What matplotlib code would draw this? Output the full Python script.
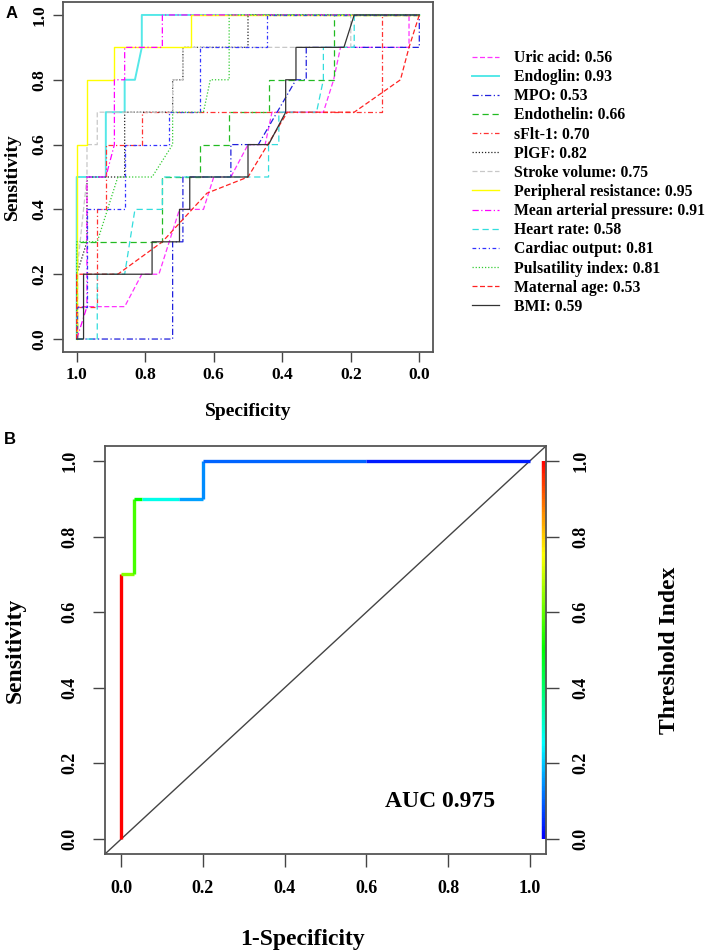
import numpy as np
import matplotlib
matplotlib.use('Agg')
import matplotlib.pyplot as plt
from matplotlib.collections import LineCollection
from matplotlib.colors import ListedColormap, hsv_to_rgb

plt.rcParams['font.family'] = ['Liberation Serif', 'DejaVu Serif']
plt.rcParams['font.weight'] = 'bold'
plt.rcParams['axes.labelweight'] = 'bold'

# --- Panel A: ROC curves (specificity, sensitivity) per marker ---
markers = ['Uric acid', 'Endoglin', 'MPO', 'Endothelin', 'sFlt-1', 'PlGF',
           'Stroke volume', 'Peripheral resistance', 'Mean arterial pressure',
           'Heart rate', 'Cardiac output', 'Pulsatility index', 'Maternal age', 'BMI']
aucs = [0.56, 0.93, 0.53, 0.66, 0.70, 0.82, 0.75, 0.95, 0.91, 0.58, 0.81, 0.81, 0.53, 0.59]

spec_uric = [1, 1, 0.86, 0.81, 0.76, 0.73, 0.70, 0.63, 0.60, 0.55, 0.50, 0.45, 0.43, 0.28, 0.25, 0.23, 0.03, 0.03, 0]
sens_uric = [0, 0.1, 0.1, 0.2, 0.2, 0.3, 0.4, 0.4, 0.5, 0.5, 0.6, 0.6, 0.7, 0.7, 0.8, 0.9, 0.9, 1.0, 1.0]
spec_endoglin = [1, 1, 0.915, 0.915, 0.86, 0.86, 0.83, 0.81, 0.81, 0]
sens_endoglin = [0, 0.5, 0.5, 0.7, 0.7, 0.8, 0.8, 0.9, 1.0, 1.0]
spec_mpo = [1, 0.72, 0.72, 0.69, 0.69, 0.55, 0.55, 0.47, 0.415, 0.36, 0.33, 0.33, 0.0, 0.0]
sens_mpo = [0, 0, 0.3, 0.3, 0.5, 0.5, 0.6, 0.6, 0.7, 0.8, 0.8, 0.9, 0.9, 1.0]
spec_endothelin = [1, 1, 0.75, 0.75, 0.64, 0.64, 0.555, 0.555, 0.44, 0.44, 0.25, 0.25, 0]
sens_endothelin = [0, 0.3, 0.3, 0.5, 0.5, 0.6, 0.6, 0.7, 0.7, 0.8, 0.8, 1.0, 1.0]
spec_sflt = [1, 1, 0.94, 0.94, 0.915, 0.915, 0.81, 0.81, 0.11, 0.11, 0]
sens_sflt = [0, 0.1, 0.1, 0.4, 0.4, 0.6, 0.6, 0.7, 0.7, 1.0, 1.0]
spec_plgf = [1, 1, 0.97, 0.97, 0.86, 0.86, 0.72, 0.72, 0.69, 0.69, 0.5, 0.5, 0]
sens_plgf = [0, 0.2, 0.3, 0.5, 0.5, 0.7, 0.7, 0.8, 0.8, 0.9, 0.9, 1.0, 1.0]
spec_stroke = [1, 1, 0.97, 0.97, 0.94, 0.94, 0.72, 0.72, 0.69, 0.69, 0.2, 0.2, 0]
sens_stroke = [0, 0.2, 0.5, 0.6, 0.6, 0.7, 0.7, 0.8, 0.8, 0.9, 0.9, 1.0, 1.0]
spec_periph = [1, 1, 0.97, 0.97, 0.89, 0.89, 0.667, 0.667, 0]
sens_periph = [0, 0.6, 0.6, 0.8, 0.8, 0.9, 0.9, 1.0, 1.0]
spec_map = [1, 0.97, 0.97, 0.915, 0.89, 0.89, 0.86, 0.86, 0.75, 0.75, 0]
sens_map = [0, 0.1, 0.5, 0.5, 0.6, 0.8, 0.8, 0.9, 0.9, 1.0, 1.0]
spec_hr = [1, 0.94, 0.94, 0.86, 0.83, 0.75, 0.75, 0.44, 0.44, 0.41, 0.41, 0.30, 0.28, 0.28, 0.19, 0.19, 0]
sens_hr = [0, 0, 0.2, 0.2, 0.4, 0.4, 0.5, 0.5, 0.6, 0.6, 0.7, 0.7, 0.8, 0.9, 0.9, 1.0, 1.0]
spec_co = [1, 1, 0.97, 0.97, 0.86, 0.86, 0.73, 0.73, 0.64, 0.64, 0.445, 0.445, 0]
sens_co = [0, 0.1, 0.1, 0.4, 0.4, 0.6, 0.6, 0.7, 0.7, 0.9, 0.9, 1.0, 1.0]
spec_pi = [1, 1, 0.94, 0.91, 0.88, 0.78, 0.72, 0.72, 0.63, 0.61, 0.555, 0.555, 0]
sens_pi = [0, 0.3, 0.3, 0.4, 0.5, 0.5, 0.6, 0.7, 0.7, 0.8, 0.8, 1.0, 1.0]
spec_age = [1, 1, 0.88, 0.75, 0.62, 0.50, 0.385, 0.19, 0.055, 0.03, 0]
sens_age = [0, 0.2, 0.2, 0.3, 0.45, 0.5, 0.7, 0.7, 0.8, 0.9, 1.0]
spec_bmi = [1, 0.98, 0.98, 0.78, 0.78, 0.70, 0.70, 0.67, 0.67, 0.50, 0.50, 0.44, 0.39, 0.39, 0.36, 0.36, 0.22, 0.19, 0]
sens_bmi = [0, 0, 0.2, 0.2, 0.3, 0.3, 0.4, 0.4, 0.5, 0.5, 0.6, 0.6, 0.7, 0.8, 0.8, 0.9, 0.9, 1.0, 1.0]

specs = [spec_uric, spec_endoglin, spec_mpo, spec_endothelin, spec_sflt, spec_plgf, spec_stroke,
         spec_periph, spec_map, spec_hr, spec_co, spec_pi, spec_age, spec_bmi]
senss = [sens_uric, sens_endoglin, sens_mpo, sens_endothelin, sens_sflt, sens_plgf, sens_stroke,
         sens_periph, sens_map, sens_hr, sens_co, sens_pi, sens_age, sens_bmi]

colors = ['#ff33ff', '#55e8e8', '#2020dd', '#22bb22', '#ff3333', '#222222', '#c8c8c8',
          '#ffff00', '#ff00ff', '#33dddd', '#3333ff', '#33cc33', '#ff2222', '#333333']
styles = [(0, (4, 2)), '-', (0, (5, 2, 1, 2)), (0, (5, 3)), (0, (4, 2, 1, 2)), (0, (1, 1.5)),
          (0, (4, 2)), '-', (0, (5, 2, 1, 2)), (0, (5, 3)), (0, (3, 2, 1, 2)), (0, (1, 1.5)),
          (0, (4, 2)), '-']
widths = [0.9, 1.4, 0.9, 0.9, 0.9, 0.9, 0.9, 1.0, 0.9, 0.9, 0.9, 0.9, 0.9, 0.9]

# --- Panel B: colourised ROC curve ---
fpr_b = [0, 0, 0.03, 0.03, 0.05, 0.14, 0.20, 0.20, 0.60, 1.0]
tpr_b = [0, 0.7, 0.7, 0.9, 0.9, 0.9, 0.9, 1.0, 1.0, 1.0]
cut_b = [1.0, 1.0, 0.63, 0.57, 0.50, 0.27, 0.16, 0.14, 0.10, 0.03]
auc_b = 0.975

ticks = [0.0, 0.2, 0.4, 0.6, 0.8, 1.0]
tick_labels = ['0.0', '0.2', '0.4', '0.6', '0.8', '1.0']

rainbow = ListedColormap(hsv_to_rgb(np.column_stack([np.linspace(0.667, 0, 256),
                                                      np.ones(256), np.ones(256)])))

fig = plt.figure(figsize=(7.09, 9.52), dpi=100)

# ---------------- Panel A ----------------
axA = fig.add_axes([63 / 709, 1 - 352 / 952, 370 / 709, 350 / 952])
for i, name in enumerate(markers):
    axA.plot(specs[i], senss[i], color=colors[i], linestyle=styles[i], lw=widths[i],
             alpha=0.6, label=f'{name}: {aucs[i]:.2f}')
axA.set_xlim(1.04, -0.04)
axA.set_ylim(-0.04, 1.04)
axA.set_xticks(ticks)
axA.set_xticklabels(tick_labels)
axA.set_yticks(ticks)
axA.set_yticklabels(tick_labels, rotation=90, va='center')
axA.tick_params(labelsize=12.5, length=7, width=1, color='#444444', pad=4)
for sp in axA.spines.values():
    sp.set_color('#555555')
    sp.set_linewidth(1.3)
axA.set_xlabel('Specificity', fontsize=14, labelpad=14)
axA.set_ylabel('Sensitivity', fontsize=14, labelpad=8)

handles, labels = axA.get_legend_handles_labels()
for h in handles:
    h.set_alpha(1.0)
fig.legend(handles, labels, loc='upper left', bbox_to_anchor=(472 / 709, 1 - 50 / 952),
           frameon=False, fontsize=11.3, handlelength=1.7, handletextpad=1.0,
           labelspacing=0.2, borderpad=0, borderaxespad=0)

fig.text(12 / 709, 1 - 14 / 952, 'A', family='Liberation Sans', fontsize=12,
         fontweight='bold', ha='center', va='center')
fig.text(10 / 709, 1 - 440 / 952, 'B', family='Liberation Sans', fontsize=12,
         fontweight='bold', ha='center', va='center')

# ---------------- Panel B ----------------
axB = fig.add_axes([105 / 709, 1 - 854 / 952, 441 / 709, 408 / 952])
axB.set_xlim(-0.04, 1.04)
axB.set_ylim(-0.04, 1.04)
axB.plot([-0.04, 1.04], [-0.04, 1.04], color='#444444', lw=1)

pts = np.column_stack([fpr_b, tpr_b])
segs = np.stack([pts[:-1], pts[1:]], axis=1)
lc = LineCollection(segs, colors=rainbow(np.array(cut_b[1:])), linewidths=2.4,
                    capstyle='butt', joinstyle='miter')
axB.add_collection(lc)

# colour bar along the right edge
cb_y = np.linspace(0, 1, 200)
cb_pts = np.column_stack([np.full_like(cb_y, 1.035), cb_y])
cb_segs = np.stack([cb_pts[:-1], cb_pts[1:]], axis=1)
cb = LineCollection(cb_segs, colors=rainbow(cb_y[:-1]), linewidths=3.2, clip_on=False)
axB.add_collection(cb)

axB.set_xticks(ticks)
axB.set_xticklabels(tick_labels)
axB.set_yticks(ticks)
axB.set_yticklabels(tick_labels, rotation=90, va='center')
axB.tick_params(labelsize=13, length=9, width=1, color='#444444', pad=10)
for sp in axB.spines.values():
    sp.set_color('#555555')
    sp.set_linewidth(1.3)
axB.set_ylabel('Sensitivity', fontsize=17, labelpad=26)
fig.text(302 / 709, 1 - 940 / 952, '1-Specificity', fontsize=17, fontweight='bold',
         ha='center', va='center')
axB.text(0.78, 0.1, f'AUC {auc_b}', fontsize=17, fontweight='bold', ha='center', va='center')

axR = axB.twinx()
axR.set_ylim(-0.04, 1.04)
axR.set_yticks(ticks)
axR.set_yticklabels(tick_labels, rotation=90, va='center')
axR.tick_params(labelsize=13, length=9, width=1, color='#444444', pad=10)
for sp in axR.spines.values():
    sp.set_visible(False)
axR.set_ylabel('Threshold Index', fontsize=17, labelpad=50)

fig.savefig('out.png', dpi=100)
